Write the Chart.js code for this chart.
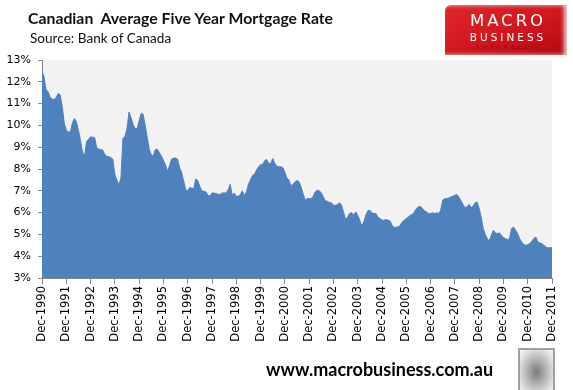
<!DOCTYPE html>
<html>
<head>
<meta charset="utf-8">
<script src="https://cdn.jsdelivr.net/npm/chart.js@4.4.1/dist/chart.umd.min.js"></script>
<style>
  html, body { margin: 0; padding: 0; background: #ffffff; }
  #wrap { position: relative; width: 573px; height: 390px; overflow: hidden; background: #fff; }
  #c { position: absolute; left: 0; top: 0; }
  .txt { position: absolute; white-space: pre; color: #111; }
  #title { left: 28px; top: 8px; font: bold 15.8px Lato, "Open Sans", sans-serif; }
  #sub { left: 30px; top: 30px; font: 13.6px Lato, "Open Sans", sans-serif; }
  #footer { left: 266px; top: 358px; font: bold 18px Lato, "Open Sans", sans-serif; color: #000; }
  #logo { position: absolute; left: 445px; top: 5px; width: 122px; height: 50px;
          background: linear-gradient(160deg, #e0262b 0%, #d41a20 45%, #b5080f 100%);
          border-top-left-radius: 6px; box-shadow: -3px 0 4px rgba(255,255,255,0.8) inset; }
  #logo .l1 { position: absolute; left: 2px; width: 122px; top: 6px; text-align: center; color: #fff;
              font: 16.5px "DejaVu Sans", sans-serif; letter-spacing: 3px; }
  #logo .l2 { position: absolute; left: 2px; width: 122px; top: 26px; text-align: center; color: #fff;
              font: 10.5px "DejaVu Sans", sans-serif; letter-spacing: 3px; }
  #logo .l3 { position: absolute; left: 2px; width: 122px; top: 39px; text-align: center; color: #8e0a10;
              font: 5.5px "DejaVu Sans", sans-serif; letter-spacing: 3.4px; }
  #wolf { position: absolute; left: 518px; top: 348px; width: 33px; height: 40px;
          border: 2px solid #a0a0a0;
          background: radial-gradient(ellipse at 50% 55%, #7a7a7a 0%, #b9b9b9 45%, #e6e6e6 80%, #f4f4f4 100%); }
</style>
</head>
<body>
<div id="wrap">
  <canvas id="c" width="573" height="390"></canvas>
  <div id="title" class="txt">Canadian  Average Five Year Mortgage Rate</div>
  <div id="sub" class="txt">Source: Bank of Canada</div>
  <div id="logo"><div class="l1">MACRO</div><div class="l2">BUSINESS</div><div class="l3">SUPERBLOG</div></div>
  <div id="footer" class="txt">www.macrobusiness.com.au</div>
  <div id="wolf"></div>
</div>
<script>
// Monthly average five-year mortgage rate (%), Dec 1990 .. Dec 2011
const rates = [
  12.5,                                                                  // Dec 1990
  12.23, 11.62, 11.55, 11.3, 11.2, 11.2, 11.27, 11.47, 11.4, 10.86, 10.1, 9.78,   // 1991
  9.7, 9.7, 10.1, 10.32, 10.17, 9.78, 9.32, 8.79, 8.59, 9.25, 9.36, 9.48,         // 1992
  9.45, 9.45, 8.99, 8.91, 8.9, 8.87, 8.67, 8.59, 8.56, 8.53, 8.45, 7.75,          // 1993
  7.5, 7.26, 7.6, 9.4, 9.5, 9.85, 10.62, 10.35, 10.05, 9.85, 9.85, 10.2,          // 1994
  10.55, 10.5, 10.0, 9.45, 8.9, 8.65, 8.6, 8.9, 8.9, 8.75, 8.6, 8.4,              // 1995
  8.2, 7.9, 8.15, 8.45, 8.5, 8.5, 8.45, 8.05, 7.85, 7.45, 7.05, 7.0,              // 1996
  7.15, 7.12, 7.1, 7.55, 7.45, 7.2, 7.0, 6.98, 6.95, 6.8, 6.75, 6.9,              // 1997
  6.9, 6.87, 6.84, 6.83, 6.9, 6.9, 6.9, 7.05, 7.3, 6.8, 6.9, 6.75,                // 1998
  6.75, 6.83, 7.0, 6.78, 6.95, 7.3, 7.5, 7.7, 7.76, 7.95, 8.1, 8.2,               // 1999
  8.2, 8.38, 8.44, 8.25, 8.25, 8.48, 8.27, 8.13, 8.1, 8.1, 8.07, 7.85,            // 2000
  7.59, 7.49, 7.23, 7.29, 7.41, 7.47, 7.41, 7.18, 6.87, 6.57, 6.64, 6.64,         // 2001
  6.64, 6.75, 6.95, 7.03, 7.0, 6.91, 6.72, 6.54, 6.52, 6.46, 6.45, 6.34,          // 2002
  6.34, 6.37, 6.45, 6.34, 6.03, 5.68, 5.8, 5.96, 6.0, 5.88, 6.03, 5.88,           // 2003
  5.65, 5.39, 5.57, 5.88, 6.08, 6.11, 5.99, 5.96, 5.96, 5.8, 5.73, 5.65,          // 2004
  5.65, 5.68, 5.65, 5.62, 5.42, 5.3, 5.34, 5.34, 5.42, 5.57, 5.65, 5.73,          // 2005
  5.8, 5.88, 5.92, 6.03, 6.19, 6.26, 6.29, 6.19, 6.08, 6.03, 5.96, 5.96,          // 2006
  5.99, 5.96, 5.99, 5.96, 6.11, 6.57, 6.64, 6.64, 6.67, 6.72, 6.75, 6.8,          // 2007
  6.83, 6.72, 6.54, 6.38, 6.23, 6.26, 6.38, 6.23, 6.29, 6.45, 6.49, 6.19,         // 2008
  5.8, 5.27, 5.01, 4.81, 4.7, 4.96, 5.19, 5.07, 5.04, 5.07, 4.96, 4.85,           // 2009
  4.81, 4.76, 4.81, 5.27, 5.34, 5.19, 5.04, 4.81, 4.65, 4.55, 4.5, 4.53,          // 2010
  4.58, 4.68, 4.81, 4.88, 4.65, 4.61, 4.58, 4.5, 4.42, 4.38, 4.39, 4.39           // 2011
];

const monthNames = ['Jan','Feb','Mar','Apr','May','Jun','Jul','Aug','Sep','Oct','Nov','Dec'];
const firstYear = 1990;   // series starts December 1990
const months = rates.map((_, i) => {
  const m = (11 + i) % 12;
  const y = firstYear + Math.floor((11 + i) / 12);
  return monthNames[m] + '-' + y;
});

const xTickLabels = ['Dec-1990','Dec-1991','Dec-1992','Dec-1993','Dec-1994','Dec-1995','Dec-1996',
  'Dec-1997','Dec-1998','Dec-1999','Dec-2000','Dec-2001','Dec-2002','Dec-2003','Dec-2004',
  'Dec-2005','Dec-2006','Dec-2007','Dec-2008','Dec-2009','Dec-2010','Dec-2011'];
const yTickValues = [3,4,5,6,7,8,9,10,11,12,13];

const plotBg = {
  id: 'plotBg',
  beforeDraw(chart) {
    const { ctx, chartArea: a } = chart;
    ctx.save();
    ctx.fillStyle = '#f2f2f2';
    ctx.fillRect(a.left, a.top, a.right - a.left, a.bottom - a.top);
    ctx.restore();
  }
};

new Chart(document.getElementById('c'), {
  type: 'line',
  data: {
    labels: months,
    datasets: [{
      data: rates,
      fill: 'start',
      backgroundColor: '#4f81bd',
      borderColor: '#4f81bd',
      borderWidth: 1,
      pointRadius: 0,
      tension: 0
    }]
  },
  options: {
    responsive: false,
    devicePixelRatio: 1,
    animation: false,
    layout: { padding: { top: 60, right: 21, left: 0, bottom: 0 } },
    plugins: { legend: { display: false }, tooltip: { enabled: false } },
    scales: {
      x: {
        type: 'category',
        offset: false,
        afterBuildTicks(scale) {
          scale.ticks = scale.ticks.filter(t => t.value % 12 === 0);
        },
        afterFit(scale) { scale.height = 112; },
        grid: { drawOnChartArea: false, drawTicks: true, tickLength: 6, color: '#868686' },
        border: { display: true, color: '#868686', width: 1 },
        ticks: {
          autoSkip: false,
          minRotation: 90,
          maxRotation: 90,
          padding: 2,
          color: '#000',
          font: { family: 'DejaVu Sans', size: 11.5 },
          callback: (v, i) => xTickLabels[i]
        }
      },
      y: {
        min: 3, max: 13,
        afterBuildTicks(scale) {
          scale.ticks = yTickValues.map(v => ({ value: v }));
        },
        afterFit(scale) { scale.width = 42; },
        grid: { drawOnChartArea: false, drawTicks: true, tickLength: 4, color: '#868686' },
        border: { display: true, color: '#868686', width: 1 },
        ticks: {
          padding: 7,
          color: '#000',
          font: { family: 'DejaVu Sans', size: 11 },
          callback: v => v + '%'
        }
      }
    }
  },
  plugins: [plotBg]
});
</script>
</body>
</html>
